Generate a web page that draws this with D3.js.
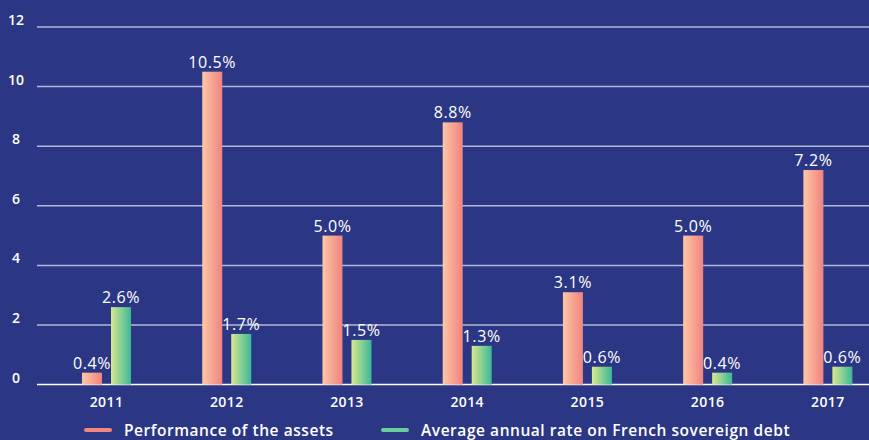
<!DOCTYPE html>
<html>
<head>
<meta charset="utf-8">
<script src="https://cdn.jsdelivr.net/npm/d3@7"></script>
<style>
  html, body { margin: 0; padding: 0; background: #2b3784; }
  svg { display: block; font-family: 'Open Sans', sans-serif; }
</style>
</head>
<body>
<svg id="chart" width="869" height="440"></svg>
<script>
const years = ['2011', '2012', '2013', '2014', '2015', '2016', '2017'];
const assetPerf = [0.4, 10.5, 5.0, 8.8, 3.1, 5.0, 7.2];
const sovereignRate = [2.6, 1.7, 1.5, 1.3, 0.6, 0.4, 0.6];
const seriesNames = ['Performance of the assets', 'Average annual rate on French sovereign debt'];
const yTicks = [0, 2, 4, 6, 8, 10, 12];

(function () {
    let svg = d3.select('#chart'),
        width = +svg.attr('width'),
        height = +svg.attr('height');

    svg.append('rect').attr('width', width).attr('height', height).attr('fill', '#2b3784');

    let y = d3.scaleLinear().domain([0, 12]).range([384.6, 27]);
    let x = d3.scaleBand().domain(years).range([46.4, 888]).paddingInner(0.5925).paddingOuter(0.29625);
    let x1 = d3.scaleBand().domain([0, 1]).range([0, x.bandwidth()]).paddingInner(0.31);

    let defs = svg.append('defs');
    let grads = [
        {id: 'gPink', from: '#fdc7a6', to: '#f0837f'},
        {id: 'gGreen', from: '#d9e78f', to: '#3bb898'}
    ];
    grads.forEach(function (g) {
        let lg = defs.append('linearGradient').attr('id', g.id).attr('x1', '0').attr('x2', '1').attr('y1', '0').attr('y2', '0');
        lg.append('stop').attr('offset', '0%').attr('stop-color', g.from);
        lg.append('stop').attr('offset', '100%').attr('stop-color', g.to);
    });

    // grid + y labels
    svg.append('g').selectAll('line')
        .data(yTicks)
        .enter().append('line')
        .attr('x1', 37).attr('x2', width)
        .attr('y1', d => y(d)).attr('y2', d => y(d))
        .attr('stroke', d => d === 0 ? '#ffffff' : '#b4b8d6')
        .attr('stroke-width', 1.5);

    svg.append('g').selectAll('text')
        .data(yTicks)
        .enter().append('text')
        .attr('x', 16)
        .attr('y', d => y(d) - 2)
        .attr('text-anchor', 'middle')
        .attr('fill', '#fff')
        .style('font-size', '14px')
        .style('font-weight', 600)
        .text(d => d);

    let groups = years.map((yr, i) => ({year: yr, vals: [assetPerf[i], sovereignRate[i]]}));

    let grp = svg.append('g').selectAll('g')
        .data(groups)
        .enter().append('g')
        .attr('transform', d => `translate(${x(d.year)},0)`);

    let cells = grp.selectAll('g')
        .data(d => d.vals.map((v, k) => ({k: k, v: v})))
        .enter().append('g');

    cells.append('rect')
        .attr('x', d => x1(d.k))
        .attr('width', x1.bandwidth())
        .attr('y', d => y(d.v))
        .attr('height', d => y(0) - y(d.v))
        .attr('fill', d => d.k === 0 ? 'url(#gPink)' : 'url(#gGreen)');

    cells.append('text')
        .attr('x', d => x1(d.k) + x1.bandwidth() / 2)
        .attr('y', d => y(d.v) - 4)
        .attr('text-anchor', 'middle')
        .attr('fill', '#fff')
        .style('font-size', '16px')
        .style('font-weight', 500)
        .style('letter-spacing', '0.6px')
        .text(d => d.v.toFixed(1) + '%');

    // x labels
    svg.append('g').selectAll('text')
        .data(years)
        .enter().append('text')
        .attr('x', d => x(d) + x.bandwidth() / 2)
        .attr('y', 407)
        .attr('text-anchor', 'middle')
        .attr('fill', '#fff')
        .style('font-size', '14px')
        .style('font-weight', 600)
        .style('letter-spacing', '0.4px')
        .text(d => d);

    // legend
    let legend = [
        {name: seriesNames[0], color: '#f2877f', x: 86},
        {name: seriesNames[1], color: '#69cd9f', x: 383}
    ];
    let lg = svg.append('g').selectAll('g')
        .data(legend)
        .enter().append('g')
        .attr('transform', d => `translate(${d.x},430)`);
    lg.append('line')
        .attr('x1', 0).attr('x2', 24)
        .attr('stroke', d => d.color)
        .attr('stroke-width', 4)
        .attr('stroke-linecap', 'round');
    lg.append('text')
        .attr('x', 38)
        .attr('y', 5.5)
        .attr('fill', '#fff')
        .style('font-size', '15.5px')
        .style('font-weight', 600)
        .style('letter-spacing', '0.55px')
        .text(d => d.name);
}());
</script>
</body>
</html>
